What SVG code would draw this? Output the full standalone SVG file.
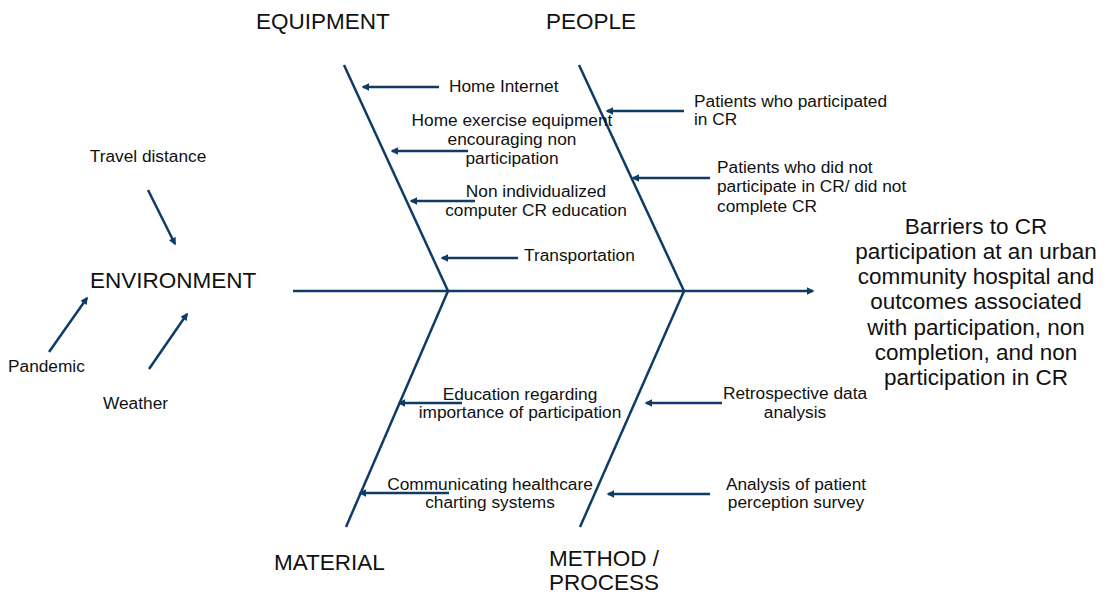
<svg xmlns="http://www.w3.org/2000/svg" width="1107" height="594" viewBox="0 0 1107 594">
  <style>
    .bone { stroke: #0f3b67; stroke-width: 2.5; fill: none; stroke-linecap: butt; }
    .arr { stroke: #0f3b67; stroke-width: 2.5; fill: none; marker-end: url(#head); }
    text { font-family: "Liberation Sans", Arial, sans-serif; fill: #111; }
    .big { font-size: 22.5px; }
    .small { font-size: 17.3px; }
    .mid { text-anchor: middle; }
  </style>
  <defs>
    <marker id="head" viewBox="0 0 10 10" refX="8" refY="5" markerWidth="3.6" markerHeight="3" orient="auto">
      <path d="M0,0 L10,5 L0,10 z" fill="#0f3b67"/>
    </marker>
  </defs>
  <rect width="1107" height="594" fill="#ffffff"/>

  <!-- fishbone skeleton and cause arrows -->
  <g id="connectors">
    <line class="arr" x1="293" y1="291" x2="813" y2="291"/>
    <line class="bone" x1="344" y1="65" x2="448" y2="291"/>
    <line class="bone" x1="579" y1="65" x2="684" y2="291"/>
    <line class="bone" x1="448" y1="291" x2="346" y2="527"/>
    <line class="bone" x1="684" y1="291" x2="580" y2="527"/>

    <line class="arr" x1="439" y1="87" x2="363" y2="87"/>
    <line class="arr" x1="468" y1="151" x2="392" y2="151"/>
    <line class="arr" x1="475" y1="201" x2="411" y2="201"/>
    <line class="arr" x1="518" y1="258" x2="442" y2="258"/>

    <line class="arr" x1="684" y1="111" x2="607" y2="111"/>
    <line class="arr" x1="710" y1="178" x2="633" y2="178"/>

    <line class="arr" x1="462" y1="403" x2="399" y2="403"/>
    <line class="arr" x1="449" y1="493" x2="360" y2="493"/>

    <line class="arr" x1="722" y1="403" x2="646" y2="403"/>
    <line class="arr" x1="710" y1="494" x2="608" y2="494"/>

    <line class="arr" x1="148" y1="190" x2="175" y2="244"/>
    <line class="arr" x1="49" y1="352" x2="87" y2="298"/>
    <line class="arr" x1="149" y1="369" x2="187" y2="314"/>
  </g>

  <!-- category labels -->
  <g id="equipment"><text class="big" x="256" y="29">EQUIPMENT</text></g>
  <g id="people"><text class="big" x="546" y="29">PEOPLE</text></g>
  <g id="material"><text class="big" x="274" y="570">MATERIAL</text></g>
  <g id="method"><text class="big" x="549" y="566">METHOD /<tspan x="549" y="590">PROCESS</tspan></text></g>
  <g id="environment"><text class="big" x="90" y="288">ENVIRONMENT</text></g>

  <!-- equipment causes -->
  <g id="home-internet"><text class="small" x="449" y="92">Home Internet</text></g>
  <g id="home-exercise"><text class="small mid" x="512" y="126">Home exercise equipment<tspan x="512" y="145">encouraging non</tspan><tspan x="512" y="164">participation</tspan></text></g>
  <g id="non-individualized"><text class="small mid" x="536" y="197">Non individualized<tspan x="536" y="216">computer CR education</tspan></text></g>
  <g id="transportation"><text class="small" x="524" y="261">Transportation</text></g>

  <!-- people causes -->
  <g id="participated"><text class="small" x="694" y="107">Patients who participated<tspan x="694" y="125">in CR</tspan></text></g>
  <g id="not-participated"><text class="small" x="717" y="173">Patients who did not<tspan x="717" y="192">participate in CR/ did not</tspan><tspan x="717" y="212">complete CR</tspan></text></g>

  <!-- material causes -->
  <g id="education"><text class="small mid" x="520" y="400">Education regarding<tspan x="520" y="418">importance of participation</tspan></text></g>
  <g id="charting"><text class="small mid" x="490" y="490">Communicating healthcare<tspan x="490" y="508">charting systems</tspan></text></g>

  <!-- method causes -->
  <g id="retrospective"><text class="small mid" x="795" y="399">Retrospective data<tspan x="795" y="418">analysis</tspan></text></g>
  <g id="survey"><text class="small mid" x="796" y="490">Analysis of patient<tspan x="796" y="508">perception survey</tspan></text></g>

  <!-- environment causes -->
  <g id="travel"><text class="small mid" x="148" y="162">Travel distance</text></g>
  <g id="pandemic"><text class="small" x="8" y="372">Pandemic</text></g>
  <g id="weather"><text class="small" x="103" y="409">Weather</text></g>

  <!-- effect -->
  <g id="effect">
    <text class="big mid" x="976" y="234">Barriers to CR<tspan x="976" y="259">participation at an urban</tspan><tspan x="976" y="284">community hospital and</tspan><tspan x="976" y="309">outcomes associated</tspan><tspan x="976" y="335">with participation, non</tspan><tspan x="976" y="360">completion, and non</tspan><tspan x="976" y="385">participation in CR</tspan></text>
  </g>
</svg>
